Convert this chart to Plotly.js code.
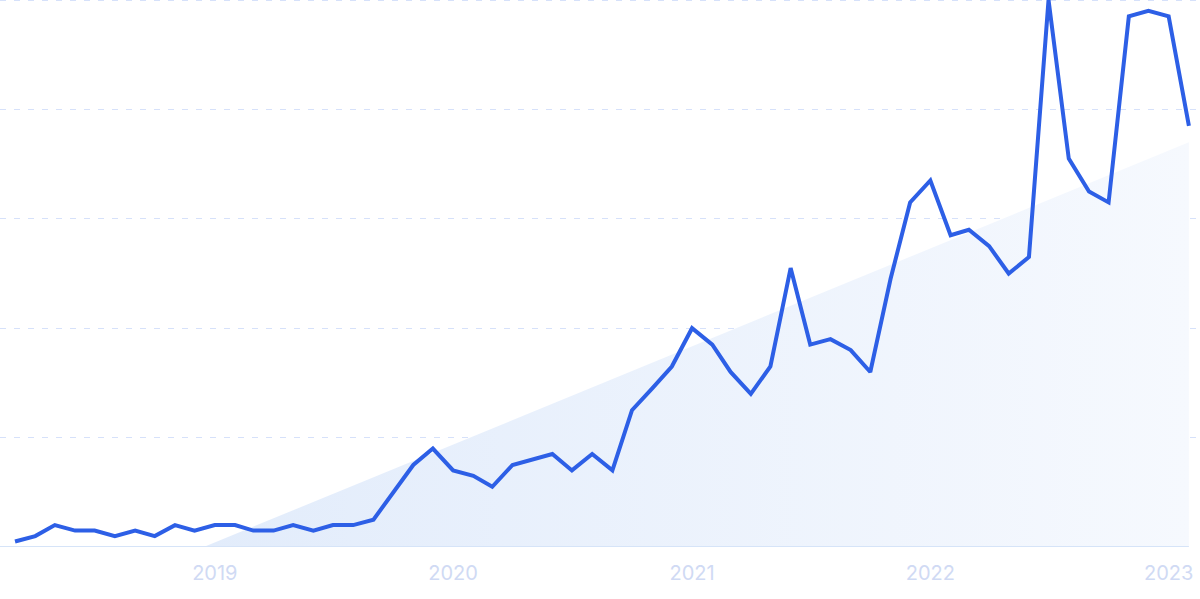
<!DOCTYPE html>
<html>
<head>
<meta charset="utf-8">
<script src="https://cdn.plot.ly/plotly-3.0.1.min.js"></script>
<style>html,body{margin:0;padding:0;background:#fff;}#chart{width:1200px;height:599px;}</style>
</head>
<body>
<div id="chart"></div>
<script>
// Monthly interest values, Mar 2018 – Feb 2023 (0–100 scale)
const months = [];
for (let y = 2018, m = 3; !(y === 2023 && m === 3); ) {
  months.push(y + '-' + String(m).padStart(2, '0') + '-01');
  m++; if (m > 12) { m = 1; y++; }
}
const values = [
  1, 2, 4, 3, 3, 2, 3, 2, 4, 3,
  4, 4, 3, 3, 4, 3, 4, 4, 5, 10, 15, 18,
  14, 13, 11, 15, 16, 17, 14, 17, 14, 25, 29, 33,
  40, 37, 32, 28, 33, 51, 37, 38, 36, 32, 49, 63,
  67, 57, 58, 55, 50, 53, 100, 71, 65, 63, 97, 98,
  97, 77
];
// Linear trend (start and end)
const trendX = ['2018-12-15', '2023-02-01'];
const trendY = [0, 74];
// Axis ticks
const yearTicks = ['2019-01-01', '2020-01-01', '2021-01-01', '2022-01-01', '2023-01-01'];
const yearLabels = ['2019', '2020', '2021', '2022', '2023'];
const gridVals = [20, 40, 60, 80, 100];

const data = [
  {
    x: trendX, y: trendY, type: 'scatter', mode: 'none',
    fill: 'tozeroy',
    fillgradient: {type: 'horizontal', colorscale: [[0, '#e2ecfb'], [1, '#f6f9fe']]},
    hoverinfo: 'skip', showlegend: false
  },
  {
    x: months, y: values, type: 'scatter', mode: 'lines',
    line: {color: '#2d5fe6', width: 4},
    showlegend: false
  }
];

const layout = {
  width: 1200, height: 599,
  margin: {l: 0, r: 0, t: 0, b: 52},
  paper_bgcolor: '#ffffff', plot_bgcolor: '#ffffff',
  xaxis: {
    type: 'date',
    range: ['2018-02-06', '2023-02-18'],
    tickvals: yearTicks, ticktext: yearLabels,
    showgrid: false, zeroline: false, showline: false,
    ticks: '', ticklabelstandoff: 12,
    tickfont: {family: 'Inter, sans-serif', size: 20, color: '#d0daf4'}
  },
  yaxis: {
    range: [0, 100],
    tickvals: gridVals,
    showticklabels: false,
    showgrid: true, gridcolor: '#d6e1fa', gridwidth: 1, griddash: '6px,8px',
    zeroline: false, showline: false
  },
  shapes: [
    {
      type: 'line', xref: 'x', yref: 'y',
      x0: '2018-02-06', x1: '2023-02-01', y0: 0, y1: 0,
      line: {color: '#d6e4f8', width: 2}, layer: 'above'
    },
    {
      type: 'line', xref: 'paper', yref: 'paper',
      x0: 0, x1: 1, y0: 1, y1: 1,
      line: {color: '#d6e1fa', width: 2, dash: '6px,8px'}, layer: 'below'
    }
  ]
};

Plotly.newPlot('chart', data, layout, {displayModeBar: false, staticPlot: true});
</script>
</body>
</html>
